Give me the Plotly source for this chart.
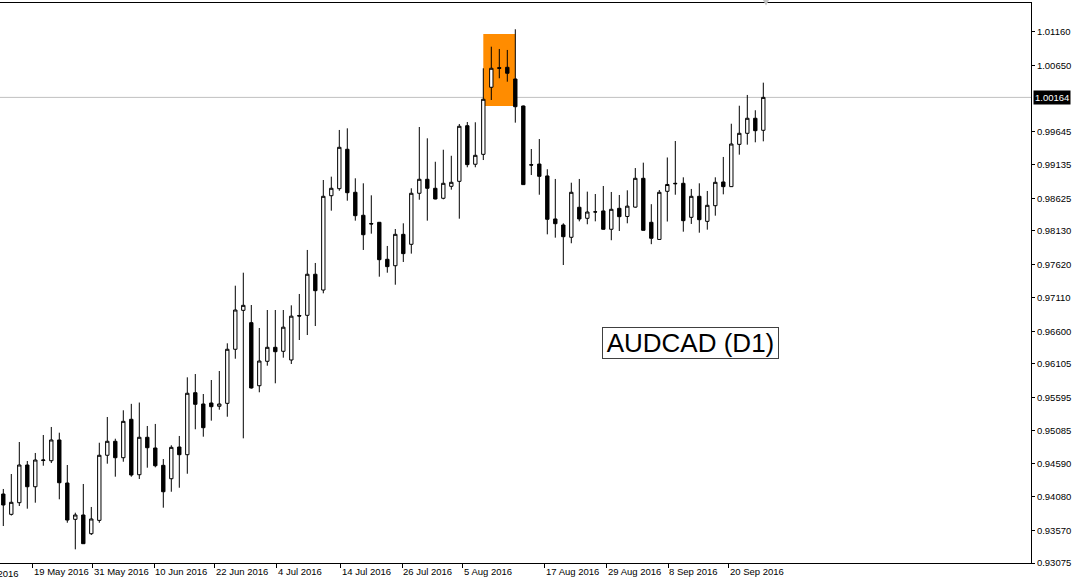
import plotly.graph_objects as go

# ---- data (AUDCAD daily) ----
opens = [
0.94125, 0.93816, 0.93993, 0.94567, 0.94236, 0.94635, 0.94632, 0.94948, 0.94293, 0.93740,
0.93806, 0.93521, 0.93724, 0.94715, 0.94928, 0.94678, 0.95263, 0.94419, 0.94989, 0.94826,
0.94562, 0.94358, 0.94841, 0.94724, 0.95668, 0.95496, 0.95511, 0.95461, 0.95506, 0.96329,
0.96922, 0.96734, 0.95774, 0.96146, 0.96359, 0.96298, 0.96166, 0.96843, 0.96846, 0.97471,
0.97231, 0.98667, 0.98774, 0.99374, 0.98719, 0.98369, 0.98244, 0.98262, 0.97699, 0.97601,
0.98079, 0.97927, 0.98704, 0.98917, 0.98780, 0.98628, 0.98810, 0.98886, 0.99733, 0.99146,
0.99297, 1.00318, 1.00616, 1.00622, 1.00444, 1.00033, 0.99139, 0.99149, 0.98968, 0.98313,
0.98221, 0.98034, 0.98491, 0.98323, 0.98419, 0.98435, 0.98156, 0.98475, 0.98351, 0.98493,
0.98932, 0.98262, 0.98001, 0.98734, 0.98856, 0.98856, 0.98338, 0.98658, 0.98277, 0.98515,
0.98876, 0.98805, 0.99449, 0.99617, 0.99846, 0.99663]
highs = [
0.94202, 0.94430, 0.94917, 0.94628, 0.94750, 0.95024, 0.95146, 0.95059, 0.94567, 0.93841,
0.94278, 0.93928, 0.94906, 0.95298, 0.94967, 0.95400, 0.95498, 0.95518, 0.95161, 0.95192,
0.94658, 0.94867, 0.95009, 0.95902, 0.95952, 0.95648, 0.95861, 0.95998, 0.96420, 0.97297,
0.97495, 0.97003, 0.96653, 0.96927, 0.96927, 0.96927, 0.96998, 0.97171, 0.97841, 0.97643,
0.98906, 0.98957, 0.99668, 0.99693, 0.98932, 0.98856, 0.98673, 0.98267, 0.97902, 0.98160,
0.98247, 0.98780, 0.99713, 0.99541, 0.99184, 0.99367, 0.99275, 0.99759, 0.99789, 0.99785,
1.00607, 1.00936, 1.00901, 1.00886, 1.01201, 1.00040, 0.99378, 0.99530, 0.99070, 0.98922,
0.98247, 0.98865, 0.98922, 0.98729, 0.98693, 0.98815, 0.98724, 0.98678, 0.98749, 0.99088,
0.99170, 0.98538, 0.98754, 0.99249, 0.99500, 0.98947, 0.98770, 0.98856, 0.98739, 0.98947,
0.99257, 0.99763, 1.00037, 1.00201, 0.99968, 1.00388]
lows = [
0.93638, 0.93798, 0.93943, 0.93902, 0.93993, 0.94556, 0.94597, 0.94045, 0.93688, 0.93283,
0.93365, 0.93501, 0.93688, 0.94587, 0.94389, 0.94617, 0.94389, 0.94354, 0.94526, 0.94532,
0.93917, 0.94160, 0.94221, 0.94434, 0.95111, 0.94998, 0.95242, 0.95409, 0.95302, 0.96185,
0.94973, 0.95730, 0.95674, 0.96079, 0.95811, 0.96201, 0.96105, 0.96470, 0.96546, 0.96683,
0.97181, 0.98439, 0.98743, 0.98591, 0.98287, 0.97841, 0.98089, 0.97434, 0.97495, 0.97312,
0.97658, 0.97785, 0.98606, 0.98287, 0.98612, 0.98612, 0.98759, 0.98317, 0.99100, 0.99100,
0.99210, 1.00124, 1.00455, 1.00403, 0.99779, 0.98830, 0.98982, 0.98682, 0.98079, 0.98028,
0.97612, 0.97943, 0.98277, 0.98232, 0.98277, 0.98150, 0.97989, 0.98130, 0.98247, 0.98485,
0.98137, 0.97929, 0.97993, 0.98274, 0.98682, 0.98119, 0.98237, 0.98104, 0.98150, 0.98363,
0.98688, 0.98800, 0.99292, 0.99444, 0.99480, 0.99495]
closes = [
0.93958, 0.93999, 0.94567, 0.94236, 0.94643, 0.94643, 0.94948, 0.94297, 0.93729, 0.93806,
0.93369, 0.93745, 0.94715, 0.94928, 0.94678, 0.95232, 0.94415, 0.94989, 0.94830, 0.94556,
0.94160, 0.94836, 0.94724, 0.95659, 0.95491, 0.95135, 0.95455, 0.95496, 0.96329, 0.96927,
0.96998, 0.95740, 0.96150, 0.96359, 0.96292, 0.96665, 0.96833, 0.96835, 0.97471, 0.97221,
0.98658, 0.98780, 0.99404, 0.98713, 0.98363, 0.98073, 0.98237, 0.97693, 0.97587, 0.98079,
0.97785, 0.98704, 0.98917, 0.98780, 0.98617, 0.98856, 0.98871, 0.99724, 0.99140, 0.99282,
1.00135, 1.00607, 1.00607, 1.00531, 1.00022, 0.98836, 0.99134, 0.98962, 0.98308, 0.98241,
0.98043, 0.98719, 0.98313, 0.98419, 0.98421, 0.98156, 0.98460, 0.98348, 0.98508, 0.98932,
0.98140, 0.98019, 0.98719, 0.98838, 0.98850, 0.98287, 0.98658, 0.98302, 0.98521, 0.98871,
0.98805, 0.99454, 0.99617, 0.99846, 0.99657, 1.00164]
bars = list(range(len(closes)))

price_ticks = [1.01160, 1.00650, 0.99645, 0.99135, 0.98625, 0.98130, 0.97620, 0.97110,
               0.96600, 0.96105, 0.95595, 0.95085, 0.94590, 0.94080, 0.93570, 0.93075]
price_labels = ["%.5f" % v for v in price_ticks]

date_tick_pos = [3.71, 11.21, 18.84, 26.46, 34.21, 42.21, 49.84, 57.46, 67.71, 75.46, 83.09, 90.71]
date_labels = ["19 May 2016", "31 May 2016", "10 Jun 2016", "22 Jun 2016", "4 Jul 2016",
               "14 Jul 2016", "26 Jul 2016", "5 Aug 2016", "17 Aug 2016", "29 Aug 2016",
               "8 Sep 2016", "20 Sep 2016"]
first_label = "9 May 2016"

last_price = closes[-1]
symbol_title = "AUDCAD (D1)"
box_x = [60, 64]
box_y = [1.00033, 1.01129]

FONT = "Liberation Sans, Arial, sans-serif"

fig = go.Figure()
fig.add_trace(go.Candlestick(
    x=bars, open=opens, high=highs, low=lows, close=closes,
    increasing=dict(line=dict(color="black", width=1), fillcolor="white"),
    decreasing=dict(line=dict(color="black", width=1), fillcolor="black"),
    whiskerwidth=0, showlegend=False, hoverinfo="skip"))

fig.update_layout(
    width=1075, height=587,
    margin=dict(l=0, r=44, t=3, b=24, autoexpand=False),
    paper_bgcolor="white", plot_bgcolor="white",
    boxgap=0.4,
    showlegend=False,
    font=dict(family=FONT, size=9.5, color="black"),
    xaxis=dict(
        range=[-0.4125, 128.46], type="linear", rangeslider=dict(visible=False),
        showgrid=False, zeroline=False, showline=True, linecolor="black", linewidth=1,
        mirror=True, ticks="outside", ticklen=4, tickcolor="black",
        tickvals=date_tick_pos, ticktext=date_labels, tickangle=0, automargin=False,
        ticklabelposition="outside right",
        tickfont=dict(family=FONT, size=9.5, color="black"),
    ),
    yaxis=dict(
        range=[0.93075, 1.01601], side="right", automargin=False,
        showgrid=False, zeroline=False, showline=True, linecolor="black", linewidth=1,
        mirror=True, ticks="outside", ticklen=3, tickcolor="black",
        tickvals=price_ticks, ticktext=price_labels,
        tickfont=dict(family=FONT, size=9.5, color="black"),
    ),
)

# rectangle object
fig.add_shape(type="rect", xref="x", yref="y", x0=box_x[0], x1=box_x[1], y0=box_y[0], y1=box_y[1],
              fillcolor="#ff8c00", line=dict(width=0), layer="below")
# current bid line
fig.add_shape(type="line", xref="paper", yref="y", x0=0, x1=1, y0=last_price, y1=last_price,
              line=dict(color="#c0c0c0", width=1), layer="below")
# chart shift marker
fig.add_shape(type="path", xref="x", yref="paper",
              path="M 94.96 1.0054 L 95.71 1.0054 L 95.34 0.9955 Z",
              fillcolor="#c0c0c0", line=dict(width=0))

fig.add_annotation(xref="paper", yref="y", x=1, y=last_price, xanchor="left", yanchor="middle",
                   xshift=2, text="%.5f" % last_price, showarrow=False,
                   font=dict(family=FONT, size=9.5, color="white"), bgcolor="black", borderpad=1)

# partially visible first date label (cut by the left edge, as in the reference)
fig.add_annotation(xref="paper", yref="paper", x=-0.0316, y=0, yshift=-3,
                   xanchor="left", yanchor="top", text=first_label, showarrow=False,
                   font=dict(family=FONT, size=9.5, color="black"))

fig.add_annotation(xref="x", yref="y", x=85.96, y=0.96425, xanchor="center", yanchor="middle",
                   text=symbol_title, showarrow=False, width=175, height=30,
                   font=dict(family=FONT, size=26, color="black"),
                   bordercolor="#404040", borderwidth=1, borderpad=0, bgcolor="rgba(0,0,0,0)")

fig.write_html("out.html", config={"displayModeBar": False},
               post_script="document.body.style.margin='0';document.body.style.overflow='hidden';")
